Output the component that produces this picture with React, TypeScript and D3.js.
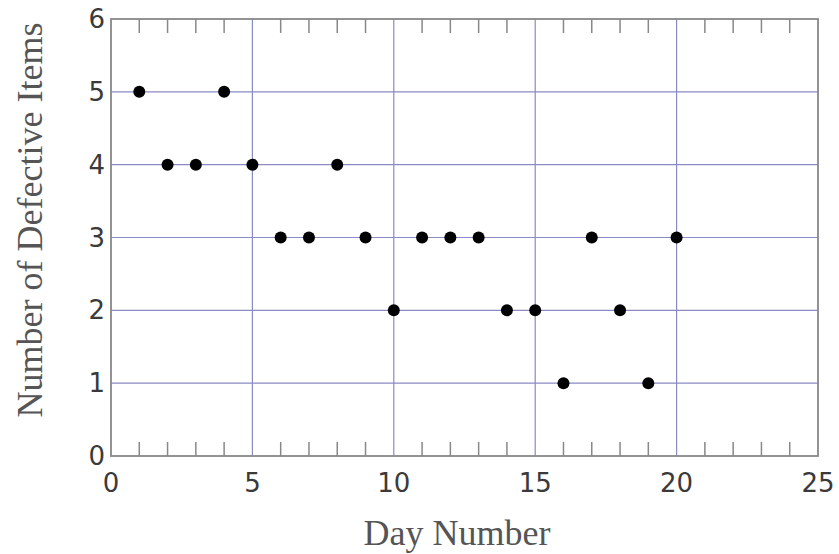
import React, { useRef, useEffect } from 'react'
import * as d3 from 'd3';

// day number vs defective items
const days = [1, 2, 3, 4, 5, 6, 7, 8, 9, 10, 11, 12, 13, 14, 15, 16, 17, 18, 19, 20];
const defects = [5, 4, 4, 5, 4, 3, 3, 4, 3, 2, 3, 3, 3, 2, 2, 1, 3, 2, 1, 3];
const xTicks = [0, 5, 10, 15, 20, 25];
const yTicks = [0, 1, 2, 3, 4, 5, 6];

const App = () => {
    const svgRef = useRef<SVGSVGElement>(null);

    useEffect(() => {
        const width = 839;
        const height = 554;
        const left = 111, right = 818, top = 19, bottom = 456;

        const svg = d3.select(svgRef.current);
        svg.selectAll("*").remove();

        const x = d3.scaleLinear().domain([0, 25]).range([left, right]);
        const y = d3.scaleLinear().domain([0, 6]).range([bottom, top]);

        svg.append("rect").attr("width", width).attr("height", height).attr("fill", "#fff");

        // grid lines
        svg.append("g")
            .selectAll()
            .data(xTicks.slice(1, -1))
            .join("line")
            .attr("x1", d => x(d)).attr("x2", d => x(d))
            .attr("y1", top).attr("y2", bottom)
            .attr("stroke", "#8a8ac4").attr("stroke-width", 1.2);
        svg.append("g")
            .selectAll()
            .data(yTicks.slice(1, -1))
            .join("line")
            .attr("x1", left).attr("x2", right)
            .attr("y1", d => y(d)).attr("y2", d => y(d))
            .attr("stroke", "#8a8ac4").attr("stroke-width", 1.2);

        // minor ticks on top and bottom
        const minor = d3.range(1, 25).filter(d => d % 5 !== 0);
        svg.append("g")
            .selectAll()
            .data(minor)
            .join("line")
            .attr("x1", d => x(d)).attr("x2", d => x(d))
            .attr("y1", bottom).attr("y2", bottom - 14)
            .attr("stroke", "#888").attr("stroke-width", 1.5);
        svg.append("g")
            .selectAll()
            .data(minor)
            .join("line")
            .attr("x1", d => x(d)).attr("x2", d => x(d))
            .attr("y1", top).attr("y2", top + 14)
            .attr("stroke", "#888").attr("stroke-width", 1.5);

        // frame
        svg.append("rect")
            .attr("x", left).attr("y", top)
            .attr("width", right - left).attr("height", bottom - top)
            .attr("fill", "none").attr("stroke", "#888").attr("stroke-width", 1.8);

        // tick labels
        svg.append("g")
            .attr("font-family", "DejaVu Sans")
            .attr("font-size", 26)
            .attr("fill", "#3a3a3a")
            .attr("text-anchor", "middle")
            .selectAll()
            .data(xTicks)
            .join("text")
            .attr("x", d => x(d))
            .attr("y", bottom + 36)
            .text(d => d);
        svg.append("g")
            .attr("font-family", "DejaVu Sans")
            .attr("font-size", 26)
            .attr("fill", "#3a3a3a")
            .attr("text-anchor", "end")
            .selectAll()
            .data(yTicks)
            .join("text")
            .attr("x", left - 6)
            .attr("y", d => y(d) + 9)
            .text(d => d);

        // axis titles
        svg.append("text")
            .attr("x", 457).attr("y", 545)
            .attr("text-anchor", "middle")
            .attr("font-family", "Liberation Serif")
            .attr("font-size", 36)
            .attr("fill", "#555")
            .text("Day Number");
        svg.append("text")
            .attr("transform", `translate(42,220) rotate(-90)`)
            .attr("text-anchor", "middle")
            .attr("font-family", "Liberation Serif")
            .attr("font-size", 36)
            .attr("fill", "#555")
            .text("Number of Defective Items");

        // points
        svg.append("g")
            .selectAll()
            .data(days)
            .join("circle")
            .attr("cx", d => x(d))
            .attr("cy", (d, i) => y(defects[i]))
            .attr("r", 6)
            .attr("fill", "#000");
    }, []);

    return (
        <svg ref={svgRef} width={839} height={554}
            style={{ position: "absolute", left: 0, top: 0, display: "block" }} />
    )
}

export default App
